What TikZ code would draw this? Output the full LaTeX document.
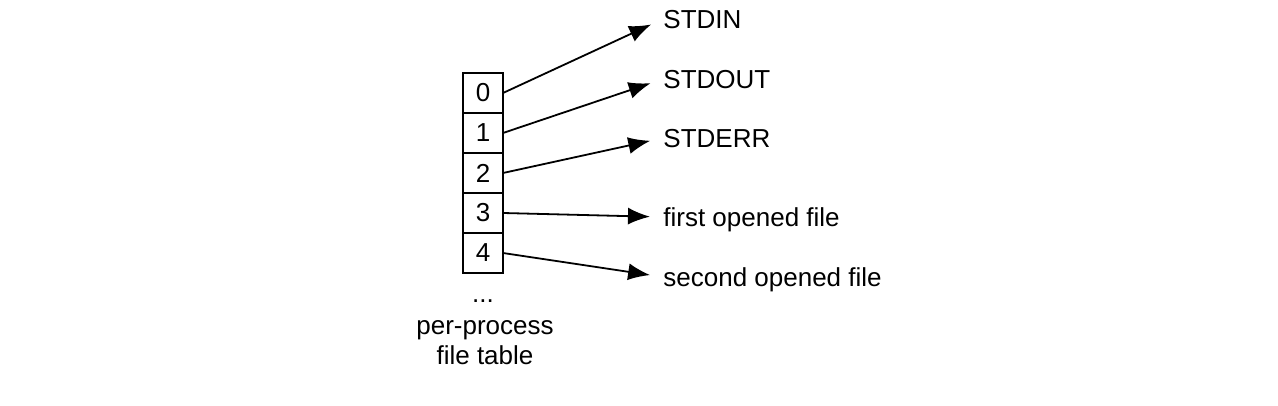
\documentclass[tikz,border=0pt]{standalone}
\usepackage{fontspec}
\setmainfont{Liberation Sans}
\usetikzlibrary{positioning,arrows.meta}

\tikzset{
  cell/.style={draw=black, line width=0.9pt, minimum width=20pt, minimum height=20pt, inner sep=0pt, outer sep=0pt},
  dest/.style={anchor=west, inner sep=0pt, text height=9.3pt, text depth=0pt},
  ptr/.style={-{Latex[length=11pt,width=8.5pt]}, line width=0.9pt, shorten >=6.5pt},
}

\begin{document}
\begin{tikzpicture}
    [x=0.5pt, y=-0.5pt,
    font=\fontsize{13}{15}\selectfont,
    ]
    \useasboundingbox (0,0) rectangle (1278,406);
    % the table
    \node[cell] (c0) at (483,93) {0};
    \node[cell, below=0pt of c0] (c1) {1};
    \node[cell, below=0pt of c1] (c2) {2};
    \node[cell, below=0pt of c2] (c3) {3};
    \node[cell, below=0pt of c3] (c4) {4};
    \node[anchor=base, inner sep=0pt] (dots) at (483,302) {...};
    \node[align=center, inner sep=0pt] (name) at (485,343) {per-process\\file table};
    % what the entries point to
    \node[dest] (stdin)  at (663,19)  {STDIN};
    \node[dest] (stdout) at (663,79)  {STDOUT};
    \node[dest] (stderr) at (663,138) {STDERR};
    \node[dest] (first)  at (663,217) {first opened file};
    \node[dest] (second) at (663,277) {second opened file};
    \draw[ptr] (c0.east) -- (stdin.west);
    \draw[ptr] (c1.east) -- (stdout.west);
    \draw[ptr] (c2.east) -- (stderr.west);
    \draw[ptr] (c3.east) -- (first.west);
    \draw[ptr] (c4.east) -- (second.west);
  \end{tikzpicture}
\end{document}
